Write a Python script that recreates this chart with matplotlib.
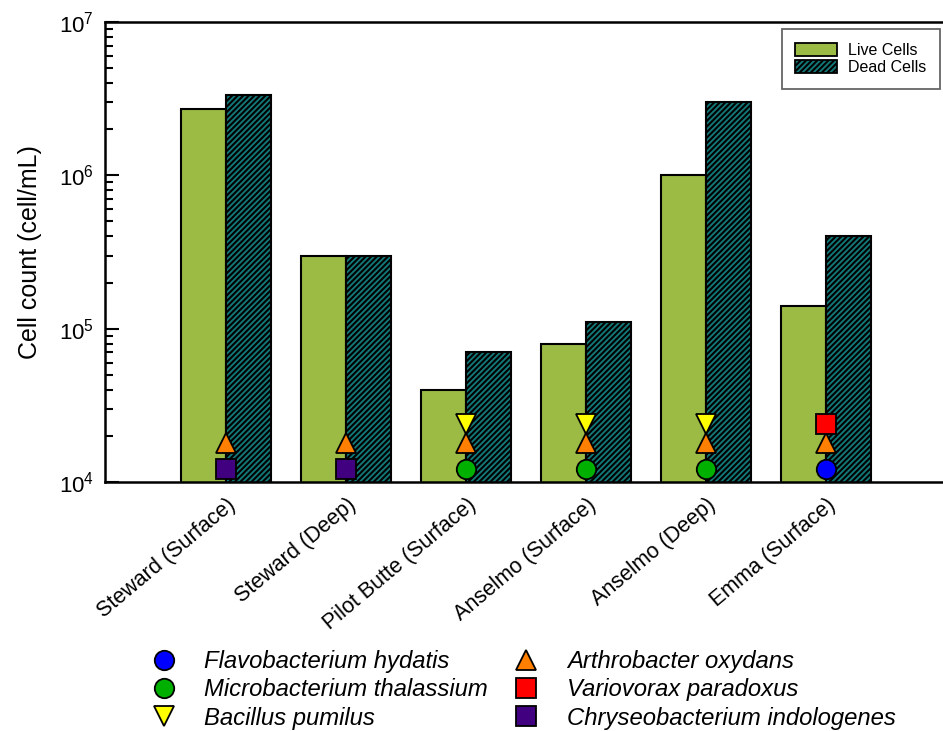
import matplotlib.pyplot as plt
import numpy as np
from matplotlib.patches import Patch
from matplotlib.lines import Line2D

plt.rcParams['font.family'] = ['Liberation Sans', 'DejaVu Sans']
plt.rcParams['mathtext.fontset'] = 'custom'
plt.rcParams['mathtext.rm'] = 'Liberation Sans'
plt.rcParams['mathtext.it'] = 'Liberation Sans:italic'
plt.rcParams['hatch.linewidth'] = 1.5

# cell counts per site (cell/mL)
sites = ['Steward (Surface)', 'Steward (Deep)', 'Pilot Butte (Surface)',
         'Anselmo (Surface)', 'Anselmo (Deep)', 'Emma (Surface)']
live = [2.7e6, 3.0e5, 4.0e4, 8.0e4, 1.0e6, 1.4e5]
dead = [3.35e6, 3.0e5, 7.0e4, 1.1e5, 3.0e6, 4.0e5]

# isolates found at each site (None = not isolated there)
flavobacterium = [None, None, None, None, None, 1.22e4]
microbacterium = [None, None, 1.22e4, 1.22e4, 1.22e4, None]
bacillus = [None, None, 2.4e4, 2.4e4, 2.4e4, None]
arthrobacter = [1.8e4, 1.8e4, 1.8e4, 1.8e4, 1.8e4, 1.8e4]
variovorax = [None, None, None, None, None, 2.4e4]
chryseobacterium = [1.22e4, 1.22e4, None, None, None, None]

species = [
    ('Flavobacterium hydatis', flavobacterium, 'o', '#0000ff'),
    ('Microbacterium thalassium', microbacterium, 'o', '#00b000'),
    ('Bacillus pumilus', bacillus, 'v', '#ffff00'),
    ('Arthrobacter oxydans', arthrobacter, '^', '#ff8000'),
    ('Variovorax paradoxus', variovorax, 's', '#ff0000'),
    ('Chryseobacterium indologenes', chryseobacterium, 's', '#40007f'),
]

live_color = '#9bbb44'
dead_color = '#137a7a'

fig = plt.figure(figsize=(9.43, 7.31), dpi=100)
ax = fig.add_axes([105 / 943, 249 / 731, 845 / 943, 460 / 731])

x = np.arange(len(sites))
w = 0.375
ax.bar(x - w / 2, live, w, color=live_color, edgecolor='black', linewidth=1.5, zorder=2)
ax.bar(x + w / 2, dead, w, color=dead_color, edgecolor='black', linewidth=1.5,
       hatch='//////', zorder=2)

for name, vals, mk, col in species:
    xs = [xi for xi, v in zip(x, vals) if v is not None]
    ys = [v for v in vals if v is not None]
    ax.plot(xs, ys, linestyle='none', marker=mk, markersize=14, markerfacecolor=col,
            markeredgecolor='black', markeredgewidth=1.3, zorder=4, clip_on=False)

ax.set_yscale('log')
ax.set_ylim(1e4, 1e7)
ax.set_xlim(-1.01, 6.03)
ax.set_xticks(x)
ax.set_xticklabels(sites, rotation=40, ha='right', rotation_mode='anchor', fontsize=15.5)
ax.tick_params(axis='x', length=0, pad=9)
ax.tick_params(axis='y', which='major', direction='in', length=10, width=1.5,
               labelsize=16, pad=8)
ax.tick_params(axis='y', which='minor', direction='in', length=6, width=1.5)
ax.spines['right'].set_visible(False)
for s in ['left', 'top', 'bottom']:
    ax.spines[s].set_linewidth(1.8)
ax.set_ylabel('Cell count (cell/mL)', fontsize=18, labelpad=12)

# bar legend in the top corner
bar_handles = [Patch(facecolor=live_color, edgecolor='black', linewidth=1.3),
               Patch(facecolor=dead_color, edgecolor='black', linewidth=1.3, hatch='//////')]
leg = ax.legend(bar_handles, ['Live Cells', 'Dead Cells'], loc='upper right',
                bbox_to_anchor=(940 / 943, 1 - 29 / 731), bbox_transform=fig.transFigure,
                fontsize=11.5, frameon=True, fancybox=False, edgecolor='#404040',
                handlelength=2.6, handleheight=0.9, labelspacing=0.15,
                borderpad=0.85, handletextpad=0.7, borderaxespad=0)
leg.get_frame().set_linewidth(1.3)

# species legend below the axes
sp_handles = [Line2D([], [], linestyle='none', marker=mk, markersize=14,
                     markerfacecolor=col, markeredgecolor='black', markeredgewidth=1.3)
              for _, _, mk, col in species]
sp_labels = [name for name, _, _, _ in species]
fig.legend(sp_handles, sp_labels, ncol=2, loc='upper left',
           bbox_to_anchor=(140 / 943, 1 - 650 / 731), frameon=False,
           prop={'style': 'italic', 'size': 17.2}, handletextpad=0.7,
           columnspacing=0.6, labelspacing=0.22, borderpad=0, borderaxespad=0)

fig.savefig('out.png', dpi=100)
